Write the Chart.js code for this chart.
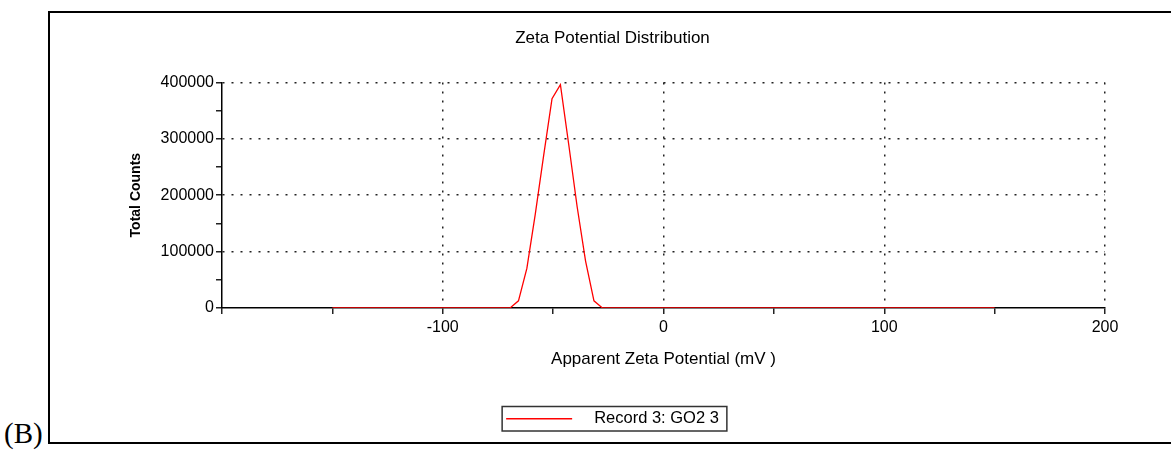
<!DOCTYPE html>
<html>
<head>
<meta charset="utf-8">
<script src="https://cdn.jsdelivr.net/npm/chart.js@4/dist/chart.umd.min.js"></script>
<style>
  body { margin: 0; background: #fff; }
  #wrap { position: relative; width: 1171px; height: 453px; overflow: hidden; }
  #frame { position: absolute; left: 48px; top: 11px; width: 1125px; height: 433px; box-sizing: border-box;
           border-left: 2px solid #000; border-top: 2px solid #000; border-bottom: 2px solid #000; }
  #tag { position: absolute; left: 4px; top: 419px; font-family: "Liberation Serif", serif; font-size: 29px; line-height: 1; }
  canvas { position: absolute; left: 0; top: 0; }
</style>
</head>
<body>
<div id="wrap">
  <div id="frame"></div>
  <div id="tag">(B)</div>
  <canvas id="grafico" width="1171" height="453"></canvas>
</div>
<script>
// potencial zeta (mV) e contagens
const potencial = [-150, -69.5, -65.7, -61.9, -58.1, -54.3, -50.5, -46.7, -42.9, -39.1, -35.3, -31.5, -27.7, 150];
const contagens = [0, 0, 12500, 70000, 166000, 270000, 371000, 396000, 289000, 179000, 83000, 12500, 0, 0];
const ticksX = [-100, 0, 100, 200];
const ticksY = [0, 100000, 200000, 300000, 400000];

const fonte = "'Liberation Sans', Arial, sans-serif";

// moldura em volta da legenda
const molduraLegenda = {
  id: 'molduraLegenda',
  afterDraw(chart) {
    const hb = chart.legend.legendHitBoxes[0];
    if (!hb) return;
    const ctx = chart.ctx;
    ctx.save();
    ctx.strokeStyle = '#333';
    ctx.lineWidth = 1.5;
    ctx.strokeRect(hb.left - 4, hb.top - 4, hb.width + 12, hb.height + 8);
    ctx.restore();
  }
};

const ctx = document.getElementById("grafico").getContext("2d");
new Chart(ctx, {
  type: 'line',
  data: {
    datasets: [{
      label: 'Record 3: GO2 3',
      data: potencial.map((x, i) => ({ x: x, y: contagens[i] })),
      borderColor: '#ff0000',
      backgroundColor: '#ff0000',
      borderWidth: 1.3,
      pointRadius: 0,
      tension: 0,
      fill: false
    }]
  },
  options: {
    responsive: false,
    animation: false,
    layout: { padding: { left: 120, right: 66, top: 28, bottom: 16 } },
    scales: {
      x: {
        type: 'linear',
        min: -200,
        max: 200,
        ticks: {
          stepSize: 50,
          autoSkip: false,
          maxRotation: 0,
          color: '#000',
          font: { family: fonte, size: 16 },
          padding: 4,
          callback: v => ticksX.includes(v) ? String(v) : ''
        },
        grid: {
          color: c => (c.tick && ticksX.includes(c.tick.value)) ? '#222' : 'rgba(0,0,0,0)',
          tickColor: '#222',
          tickLength: 6,
          lineWidth: 1.5,
          tickBorderDash: []
        },
        border: { color: '#000', width: 1.5, dash: [2, 7] },
        title: {
          display: true,
          text: 'Apparent Zeta Potential (mV )',
          color: '#000',
          font: { family: fonte, size: 17 },
          padding: { top: 8, bottom: 31 }
        }
      },
      y: {
        min: 0,
        max: 400000,
        afterFit: s => { s.width = 102; },
        ticks: {
          stepSize: 50000,
          autoSkip: false,
          color: '#000',
          font: { family: fonte, size: 16 },
          padding: 2,
          callback: v => ticksY.includes(v) ? String(v) : ''
        },
        grid: {
          color: c => (c.tick && ticksY.includes(c.tick.value) && c.tick.value > 0) ? '#222' : 'rgba(0,0,0,0)',
          tickColor: '#222',
          tickLength: 6,
          lineWidth: 1.5,
          tickBorderDash: []
        },
        border: { color: '#000', width: 1.5, dash: [2, 7] },
        title: {
          display: true,
          text: 'Total Counts',
          color: '#000',
          font: { family: fonte, size: 14, weight: 'bold' },
          padding: { top: 8, bottom: 0 }
        }
      }
    },
    plugins: {
      title: {
        display: true,
        text: 'Zeta Potential Distribution',
        color: '#000',
        font: { family: fonte, size: 17, weight: 'normal' },
        padding: { top: 0, bottom: 34 }
      },
      legend: {
        position: 'bottom',
        labels: {
          usePointStyle: true,
          pointStyle: 'line',
          pointStyleWidth: 66,
          color: '#000',
          font: { family: fonte, size: 16.5 },
          padding: 10,
          generateLabels: chart => Chart.defaults.plugins.legend.labels.generateLabels(chart)
            .map(it => Object.assign(it, { text: '   ' + it.text, lineWidth: 1.3 }))
        }
      },
      tooltip: { enabled: false }
    }
  },
  plugins: [molduraLegenda]
});
</script>
</body>
</html>
